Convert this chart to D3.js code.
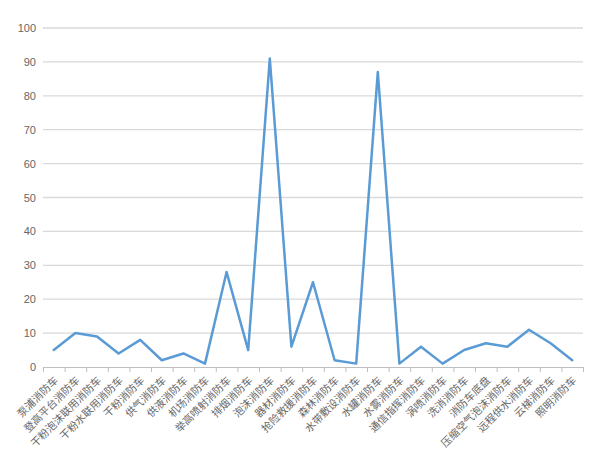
<!DOCTYPE html>
<html><head><meta charset="utf-8">
<script src="https://cdn.jsdelivr.net/npm/d3@7"></script>
<style>body{margin:0;background:#fff}svg{display:block}</style>
</head><body><svg id="c" width="600" height="467"></svg>
<script>
const categories = ["泵浦消防车","登高平台消防车","干粉泡沫联用消防车","干粉水联用消防车","干粉消防车","供气消防车","供液消防车","机场消防车","举高喷射消防车","排烟消防车","泡沫消防车","器材消防车","抢险救援消防车","森林消防车","水带敷设消防车","水罐消防车","水雾消防车","通信指挥消防车","涡喷消防车","洗消消防车","消防车底盘","压缩空气泡沫消防车","远程供水消防车","云梯消防车","照明消防车"];
const values = [5,10,9,4,8,2,4,1,28,5,91,6,25,2,1,87,1,6,1,5,7,6,11,7,2];
const yTicks = [0,10,20,30,40,50,60,70,80,90,100];

const svg = d3.select("#c");
const L = 43, R = 583, T = 28, B = 367;
const x = d3.scaleBand().domain(categories).range([L, R]);
const y = d3.scaleLinear().domain([0, 100]).range([B, T]);

svg.append("g").selectAll("line").data(yTicks.filter(d => d > 0)).join("line")
  .attr("x1", L).attr("x2", R).attr("y1", d => y(d)).attr("y2", d => y(d))
  .attr("stroke", "#d9d9d9").attr("stroke-width", 1.3);

svg.append("g").selectAll("text").data(yTicks).join("text")
  .attr("x", 36).attr("y", d => y(d) + 4).attr("text-anchor", "end")
  .attr("font-family", "Liberation Sans, Arial, sans-serif").attr("font-size", 11)
  .attr("fill", "#666666").text(d => d);

svg.append("line").attr("x1", L).attr("x2", R).attr("y1", B + 0.5).attr("y2", B + 0.5)
  .attr("stroke", "#bfbfbf");
const bounds = categories.map(c => x(c)).concat([R]);
svg.append("g").selectAll("line").data(bounds).join("line")
  .attr("x1", d => d + 0.5).attr("x2", d => d + 0.5).attr("y1", B).attr("y2", B + 5)
  .attr("stroke", "#bfbfbf");

svg.append("g").selectAll("text").data(categories).join("text")
  .attr("transform", d => `translate(${x(d) + x.bandwidth() / 2 + 5},${B + 14}) rotate(-45)`)
  .attr("text-anchor", "end")
  .attr("font-family", "Noto Sans CJK SC, sans-serif").attr("font-size", 10.5)
  .attr("fill", "#666666").text(d => d);

const line = d3.line().x((d, i) => x(categories[i]) + x.bandwidth() / 2).y(d => y(d));
svg.append("path").datum(values).attr("d", line)
  .attr("fill", "none").attr("stroke", "#5b9bd5").attr("stroke-width", 2.5)
  .attr("stroke-linejoin", "round").attr("stroke-linecap", "round");
</script></body></html>
